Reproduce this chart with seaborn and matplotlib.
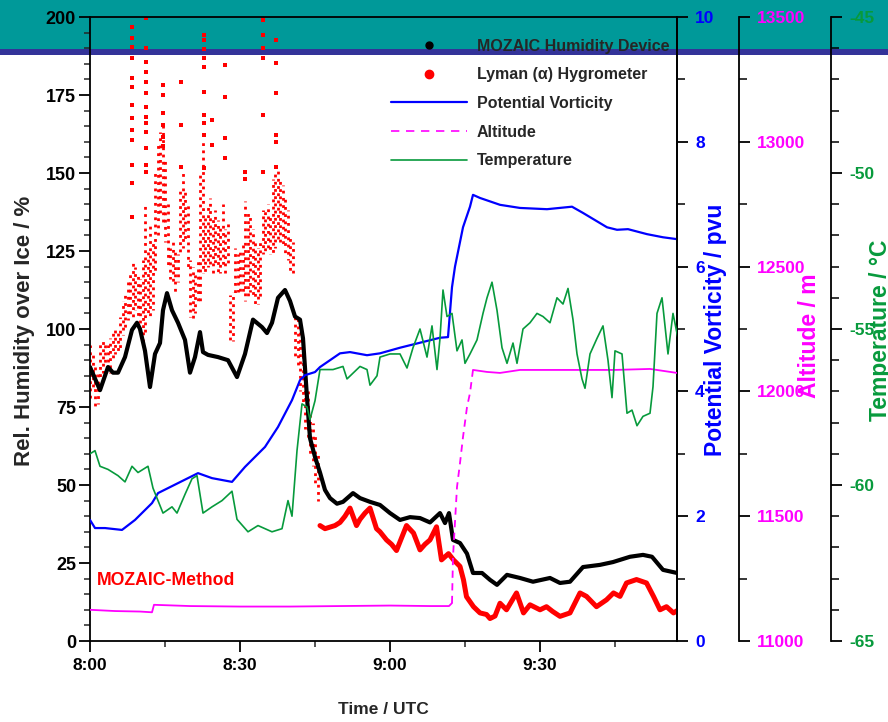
import numpy as np
import pandas as pd
import matplotlib
matplotlib.use("Agg")
import matplotlib.pyplot as plt
import seaborn as sns
from matplotlib.lines import Line2D
from matplotlib.patches import Rectangle
from matplotlib.ticker import MultipleLocator, FixedLocator, FixedFormatter

# ---------------- data (time in minutes after 8:00 UTC) ----------------
moz_t = [0, 2, 3.6, 4.6, 5.6, 7, 8.4, 9.4, 10, 11, 12, 13, 14, 14.6, 15.4, 16.4, 17.6, 19, 20, 21,
         22, 22.6, 23.6, 25.6, 27.6, 29.4, 31, 32.6, 34.4, 35.4, 36.4, 37.6, 39, 40, 41, 42, 42.6,
         43.4, 44, 45, 46, 47, 48, 49.4, 50.6, 52.6, 54, 56, 58, 60, 62, 64, 66, 68, 70, 71, 71.8,
         72.6, 74, 75.4, 76.6, 78.4, 80, 81.4, 83.4, 86, 88.6, 92, 94, 96, 98.6, 102, 104.6, 108,
         110.6, 112.4, 114.6, 117.4]
moz_rh = [87.8, 80.4, 87.8, 86, 86, 91, 99.7, 102, 100, 93, 81.4, 92, 95.5, 106, 111.5, 106, 102,
          96.5, 86, 91, 99, 92.6, 91.7, 91, 90, 84.6, 92, 103, 100.6, 98.7, 102, 110, 112.5, 109,
          104, 103, 97, 78, 65, 59, 54, 48.4, 45.8, 44, 44.6, 47.4, 45.8, 44.6, 43.6, 41, 38.8,
          39.7, 39.4, 38, 41, 37.8, 41, 32.4, 31.4, 28, 21.8, 21.8, 19.6, 18, 21.2, 20.2, 19, 20.2,
          18.6, 19, 23.7, 24.4, 25.3, 27, 27.6, 27, 22.8, 21.8]

# Lyman-alpha: scattered cloud (column low / high), isolated spikes, and the later dense trace
ly_col_t = [0, 0.5, 1, 1.5, 2, 2.5, 3, 3.5, 4, 4.5, 5, 5.5, 6, 6.5, 7, 7.5, 8, 8.5, 9, 9.5, 10, 10.5,
            11, 11.5, 12, 12.5, 13, 13.5, 14, 14.5, 15, 15.5, 16, 16.5, 17, 17.5, 18, 18.5, 19, 19.5,
            20, 20.5, 21, 21.5, 22, 22.5, 23, 23.5, 24, 24.5, 25, 25.5, 26, 26.5, 27, 27.5, 28, 28.5,
            29, 29.5, 30, 30.5, 31, 31.5, 32, 32.5, 33, 33.5, 34, 34.5, 35, 35.5, 36, 36.5, 37, 37.5,
            38, 38.5, 39, 39.5, 40, 40.5, 41, 41.5, 42, 42.5, 43, 43.5, 44, 44.5, 45, 45.5]
ly_col_lo = [78, 80, 75, 76, 84, 86, 88, 87, 86, 90, 92, 92, 94, 98, 100, 103, 104, 104, 106, 104,
             100, 95, 99, 104, 104, 106, 118, 130, 136, 134, 128, 120, 116, 114, 112, 115, 124, 126,
             128, 120, 104, 103, 105, 108, 109, 118, 118, 120, 120, 118, 120, 118, 118, 120, 118, 120,
             96, 96, 111, 112, 111, 112, 109, 110, 112, 110, 108, 108, 110, 124, 124, 126, 124, 124,
             126, 128, 128, 126, 124, 122, 118, 118, 90, 88, 80, 76, 68, 64, 60, 56, 50, 45]
ly_col_hi = [95, 92, 88, 86, 96, 97, 96, 95, 97, 100, 101, 100, 104, 109, 112, 115, 118, 121, 120, 118,
             116, 122, 140, 126, 133, 128, 150, 160, 163, 165, 155, 140, 126, 128, 126, 124, 145, 150,
             145, 140, 122, 120, 118, 122, 150, 160, 137, 140, 142, 136, 138, 135, 133, 140, 132, 134,
             111, 112, 126, 124, 126, 128, 141, 138, 136, 132, 128, 126, 128, 138, 138, 140, 136, 148,
             150, 152, 148, 146, 142, 138, 130, 128, 105, 104, 100, 96, 88, 80, 74, 70, 66, 60]

ly_spike_t = [8.3] * 13 + [11.2] * 13 + [14.5] * 6 + [18.2] * 3 + [22.7] * 10 + [24.3] * 2 + \
             [26.9] * 4 + [31.0] * 2 + [34.5] * 6 + [37.1] * 6
ly_spike_rh = [196.9, 193.2, 190.5, 186.8, 180.4, 177.7, 171.8, 167.5, 163.8, 160.6, 152.6, 146.7, 136,
               199.6, 190, 185.7, 182.5, 179.2, 175.5, 171.2, 168, 165.9, 163.2, 157.9, 152.6, 150.4,
               178.2, 175, 169.1, 165.4, 161.6, 158.5,
               179.2, 165.4, 152,
               194.2, 192.6, 189.9, 186.8, 184.1, 176.1, 168.6, 165.9, 162.2, 151.5,
               167, 159,
               184.6, 174.5, 161.1, 154.7,
               150.4, 148.2,
               199, 194.2, 190, 186.8, 168.6, 150.4,
               192.6, 185.2, 175.5, 162.2, 160, 152]

ly_line_t = [46, 47, 48, 49, 50, 51, 52, 53.3, 54, 55, 56, 57.3, 58, 59.3, 60.3, 61.3, 62.3, 63.3,
             64.7, 66, 67, 68, 69.3, 70.3, 71.7, 72.7, 74, 74.7, 75.3, 76.7, 78, 79.3, 80, 81, 82,
             83.3, 85.3, 86.7, 88, 90, 91.3, 92.5, 94, 96, 98, 99.3, 101.3, 103.3, 104.7, 106, 107.3,
             109.3, 111.3, 112.7, 114, 115.3, 116.7, 117.7]
ly_line_rh = [37, 36, 36.5, 37, 38, 40, 42.6, 37, 39, 41, 42.6, 36, 35, 32.4, 31, 29, 33, 37, 34.6,
              29.2, 31, 32.4, 36.6, 26, 28, 26, 23.9, 19.6, 14.2, 11, 9, 8.5, 7.2, 8, 12.1, 10, 15.4,
              9, 11.6, 10, 11, 9.5, 7.9, 9, 15.4, 14.3, 11, 13.2, 15.4, 14.3, 18.6, 19.7, 18.6, 14.3,
              10, 11, 9, 10]

pv_t = [0, 1, 3, 6.4, 9, 12.4, 13.6, 17.6, 21.6, 24.4, 28.4, 31, 35, 37.6, 40.4, 42, 43, 45, 46, 50,
        52, 55.4, 58, 62, 66, 70, 71.6, 72.4, 73, 74.6, 76, 76.6, 78, 82, 86, 91.4, 96.4, 98.6, 103.4,
        105.4, 107.6, 111.4, 114.6, 117.4]
pv_val = [1.94, 1.81, 1.81, 1.78, 1.94, 2.21, 2.37, 2.53, 2.69, 2.61, 2.55, 2.79, 3.11, 3.43, 3.86,
          4.18, 4.26, 4.31, 4.39, 4.61, 4.63, 4.58, 4.61, 4.70, 4.78, 4.86, 4.87, 5.67, 6.0, 6.63,
          6.96, 7.15, 7.10, 6.99, 6.94, 6.92, 6.96, 6.86, 6.63, 6.59, 6.60, 6.52, 6.47, 6.44]

alt_t = [0, 5, 10, 12.4, 12.8, 20, 30, 40, 50, 60, 68, 71.8, 72.4, 72.6, 73.4, 74, 74.6, 75.4, 76,
         76.6, 79.4, 82, 86, 95, 105, 112, 117.4]
alt_val = [11125, 11120, 11118, 11115, 11145, 11140, 11138, 11138, 11140, 11142, 11140, 11140, 11152,
           11337, 11617, 11713, 11817, 11937, 11994, 12086, 12078, 12074, 12086, 12086, 12086, 12090,
           12074]

temp_t = [0, 1, 2, 3.6, 5.6, 7, 8.4, 9.6, 11.6, 12.6, 13.6, 14.6, 16.4, 17.4, 19, 20.4, 21.4, 22.6,
          24.4, 26.4, 28.4, 29.4, 31.6, 33.6, 36.4, 38.4, 39.6, 40.4, 41.4, 42.4, 43.4, 44, 45, 46,
          48.6, 50.6, 51.4, 54, 55.4, 56, 57.4, 58, 60, 62, 63.4, 64.6, 66, 67.4, 68.4, 69.4, 70,
          70.6, 71.4, 72.4, 73.4, 74.4, 75, 76, 77.4, 78.6, 79.4, 80.4, 81.4, 82.4, 83.4, 84.6, 85.4,
          86.6, 88, 89.4, 90.6, 92, 93.4, 94.6, 95.6, 96.6, 97.4, 98.4, 99, 100, 101.4, 102.6, 103.6,
          104.4, 105, 106.4, 107.4, 108.4, 109.4, 110.6, 112, 112.6, 113.4, 114.4, 115, 115.6, 116.6,
          117.6]
temp_val = [-59.0, -58.9, -59.4, -59.5, -59.7, -59.9, -59.4, -59.6, -59.4, -60.1, -60.5, -60.9, -60.7,
            -60.9, -60.3, -59.8, -59.7, -60.9, -60.7, -60.5, -60.2, -61.1, -61.5, -61.3, -61.5, -61.4,
            -60.5, -61.0, -58.9, -57.4, -57.5, -57.9, -57.3, -56.3, -56.3, -56.2, -56.6, -56.2, -56.3,
            -56.8, -56.5, -55.9, -55.8, -55.8, -56.25, -55.6, -55.0, -55.9, -54.9, -56.3, -55.3,
            -53.75, -54.6, -54.5, -55.7, -55.35, -56.1, -55.8, -55.35, -54.5, -54.0, -53.5, -54.4,
            -55.6, -56.1, -55.45, -56.1, -55.0, -54.8, -54.5, -54.6, -54.8, -54.0, -54.2, -53.7,
            -54.7, -55.8, -56.6, -56.9, -55.8, -55.3, -54.9, -56.0, -57.2, -55.7, -55.8, -57.7,
            -57.6, -58.1, -57.8, -57.7, -56.85, -54.5, -54.0, -54.9, -55.8, -54.5, -55.3]

x_ticks = [0, 30, 60, 90]
x_labels = ["8:00", "8:30", "9:00", "9:30"]
legend_labels = ["MOZAIC Humidity Device", "Lyman (\u03b1) Hygrometer", "Potential Vorticity",
                 "Altitude", "Temperature"]

# ---------------- style ----------------
sns.set_theme(style="ticks")
plt.rcParams["font.family"] = ["Liberation Sans", "DejaVu Sans"]
plt.rcParams["font.weight"] = "bold"
plt.rcParams["axes.labelweight"] = "bold"
plt.rcParams["axes.unicode_minus"] = False

BLUE = "#0000ff"
MAG = "#ff00ff"
GREEN = "#079a3c"
RED = "#ff0000"

W, H = 888, 722
fig = plt.figure(figsize=(W / 100, H / 100), dpi=100)
fig.patch.set_facecolor("white")
fig.patches.append(Rectangle((0, 1 - 49 / H), 1, 49 / H, transform=fig.transFigure,
                             facecolor="#009999", edgecolor="none", zorder=-2))
fig.patches.append(Rectangle((0, 1 - 55 / H), 1, 6 / H, transform=fig.transFigure,
                             facecolor="#333399", edgecolor="none", zorder=-2))

L, R, B, T = 90, 677, 641, 17
ax = fig.add_axes([L / W, 1 - B / H, (R - L) / W, (B - T) / H])
ax.set_facecolor("none")
ax2 = ax.twinx()
ax3 = ax.twinx()
ax4 = ax.twinx()
for a in (ax2, ax3, ax4):
    a.set_facecolor("none")

# ---------------- data layers ----------------
col_styles = [((i * 1.1) % 2.7, (1.0, 1.6)) for i in range(len(ly_col_t))]
ax.vlines(ly_col_t, ly_col_lo, ly_col_hi, colors=RED, linestyles=col_styles, linewidth=2.0,
          zorder=2)
sns.scatterplot(x=ly_spike_t, y=ly_spike_rh, ax=ax, color=RED, s=7, linewidth=0, marker="s",
                zorder=2, legend=False)
sns.lineplot(x=ly_line_t, y=ly_line_rh, ax=ax, color=RED, linewidth=3.6, estimator=None, sort=False,
             zorder=3, legend=False)
sns.lineplot(x=moz_t, y=moz_rh, ax=ax, color="black", linewidth=3.0, estimator=None, sort=False,
             zorder=4, legend=False)

sns.lineplot(x=pv_t, y=pv_val, ax=ax2, color=BLUE, linewidth=1.6, estimator=None, sort=False,
             legend=False)

alt_df = pd.DataFrame({"t": alt_t, "alt": alt_val})
flat1 = alt_df[alt_df.t <= 72.4]
climb = alt_df[(alt_df.t >= 72.4) & (alt_df.t <= 76.6)]
flat2 = alt_df[alt_df.t >= 76.6]
for part, ls in ((flat1, "-"), (climb, (0, (4, 3))), (flat2, "-")):
    sns.lineplot(data=part, x="t", y="alt", ax=ax3, color=MAG, linewidth=1.3, linestyle=ls,
                 estimator=None, sort=False, legend=False)

sns.lineplot(x=temp_t, y=temp_val, ax=ax4, color=GREEN, linewidth=1.2, estimator=None, sort=False,
             legend=False)

# ---------------- axes ----------------
ax.set_xlim(0, 117.4)
ax.set_ylim(0, 200)
ax2.set_ylim(0, 10)
ax3.set_ylim(11000, 13500)
ax4.set_ylim(-65, -45)

ax.xaxis.set_major_locator(FixedLocator(x_ticks))
ax.xaxis.set_major_formatter(FixedFormatter(x_labels))
ax.xaxis.set_minor_locator(MultipleLocator(15))
ax.yaxis.set_major_locator(MultipleLocator(25))
ax.yaxis.set_minor_locator(MultipleLocator(5))
ax2.yaxis.set_major_locator(MultipleLocator(2))
ax2.yaxis.set_minor_locator(MultipleLocator(1))
ax3.yaxis.set_major_locator(MultipleLocator(500))
ax3.yaxis.set_minor_locator(MultipleLocator(250))
ax4.yaxis.set_major_locator(MultipleLocator(5))
ax4.yaxis.set_minor_locator(MultipleLocator(1))

for s in ax.spines.values():
    s.set_color("black")
    s.set_linewidth(1.3)
for a, pos in ((ax3, 1.1056), (ax4, 1.2624)):
    for k in ("top", "left", "bottom"):
        a.spines[k].set_visible(False)
    a.spines["right"].set_position(("axes", pos))
    a.spines["right"].set_color("black")
    a.spines["right"].set_linewidth(1.3)
for k in ("top", "left", "bottom"):
    ax2.spines[k].set_visible(False)
ax2.spines["right"].set_linewidth(1.3)
ax2.spines["right"].set_color("black")

ax.tick_params(axis="both", which="major", direction="out", length=8, width=1.3, labelsize=13,
               colors="black", pad=2)
ax.tick_params(axis="both", which="minor", direction="out", length=4.5, width=1.1)
ax.tick_params(axis="x", which="major", labelsize=12.5, pad=4)
for a, col in ((ax2, BLUE), (ax3, MAG), (ax4, GREEN)):
    a.tick_params(axis="y", which="major", direction="out", length=8, width=1.3, labelsize=12.5,
                  color="black", labelcolor=col, pad=5)
    a.tick_params(axis="y", which="minor", direction="out", length=6, width=1.1, color="black")
for a in (ax, ax2, ax3, ax4):
    for lab in a.get_xticklabels() + a.get_yticklabels():
        lab.set_fontweight("bold")

ax.set_xlabel("Time / UTC", fontsize=12.5, fontweight="bold")
ax.xaxis.set_label_coords(0.5, (B - 710) / (B - T))
ax.xaxis.label.set_va("center")
ax.set_ylabel("Rel. Humidity over Ice / %", fontsize=16, fontweight="bold")
ax.yaxis.set_label_coords((24 - L) / (R - L), (B - 331) / (B - T))
ax.yaxis.label.set_va("center")
ax2.set_ylabel("Potential Vorticity / pvu", fontsize=16.5, fontweight="bold", color=BLUE)
ax2.yaxis.set_label_coords((716 - L) / (R - L), (B - 330) / (B - T))
ax2.yaxis.label.set_va("center")
ax3.set_ylabel("Altitude / m", fontsize=16.5, fontweight="bold", color=MAG)
ax3.yaxis.set_label_coords((810 - L) / (R - L), (B - 336) / (B - T))
ax3.yaxis.label.set_va("center")
ax4.set_ylabel("Temperature / \u00b0C", fontsize=16.5, fontweight="bold", color=GREEN)
ax4.yaxis.set_label_coords((881 - L) / (R - L), (B - 330) / (B - T))
ax4.yaxis.label.set_va("center")

ax.text(1.4, 19.5, "MOZAIC-Method", color=RED, fontsize=12.7, fontweight="bold",
        va="center", ha="left")

handles = [
    Line2D([], [], marker="o", ls="none", color="black", markersize=5),
    Line2D([], [], marker="o", ls="none", color=RED, markersize=6),
    Line2D([], [], color=BLUE, lw=1.6),
    Line2D([], [], color=MAG, lw=1.2, ls=(0, (5, 4))),
    Line2D([], [], color=GREEN, lw=1.2),
]
FS = 11.5
fs_px = FS * 100 / 72
leg = ax4.legend(handles, legend_labels, loc="upper left",
                 bbox_to_anchor=((391 - L) / (R - L), (B - 38.5) / (B - T)), frameon=False,
                 prop=dict(family=["Liberation Sans", "DejaVu Sans"], weight="bold", size=FS),
                 handlelength=76 / fs_px, handletextpad=10 / fs_px, labelspacing=0.86,
                 borderpad=0, borderaxespad=0)

fig.savefig("out.png", dpi=100, facecolor=fig.get_facecolor())
